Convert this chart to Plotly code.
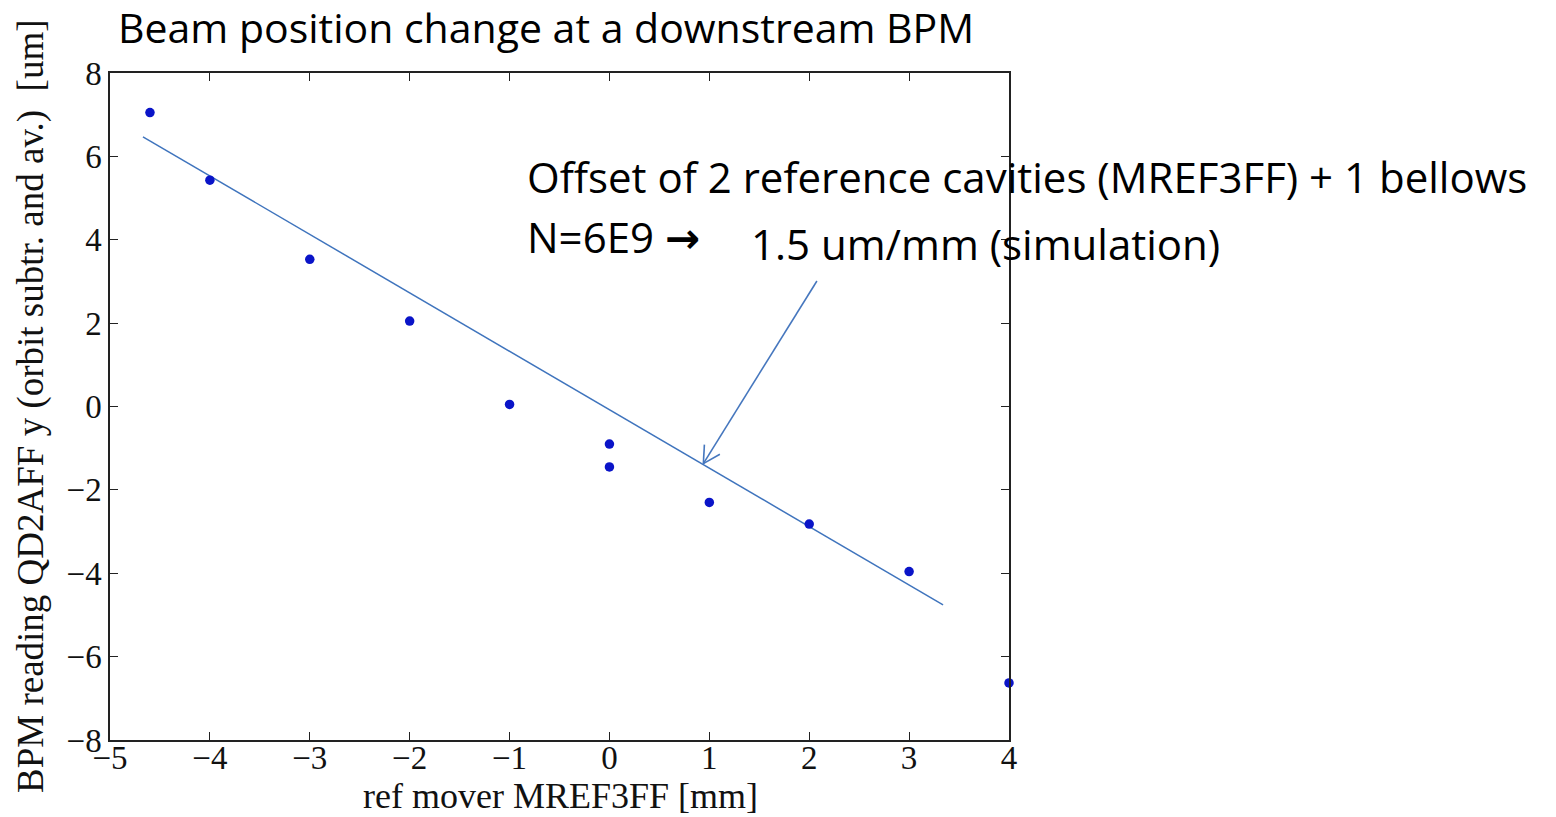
import math
import plotly.graph_objects as go

# Data
mover_mm = [-4.6, -4, -3, -2, -1, 0, 0, 1, 2, 3, 4]
bpm_um = [7.05, 5.43, 3.53, 2.05, 0.05, -0.9, -1.45, -2.3, -2.82, -3.96, -6.63]
fit_x = [-4.67, 3.34]
fit_y = [6.47, -4.76]
arrow_tail = (2.077, 3.01)
arrow_tip = (0.94, -1.37)
x_ticks = [-5, -4, -3, -2, -1, 0, 1, 2, 3, 4]
y_ticks = [-8, -6, -4, -2, 0, 2, 4, 6, 8]
x_range = [-5, 4]
y_range = [-8, 8]

W, H = 1556, 817
L, R, T, B = 110, 1009, 73, 740


def px(xp):
    return (xp - L) / (R - L)


def py(yp):
    return (B - yp) / (B - T)


# pixel scale of the data axes
sx = (R - L) / (x_range[1] - x_range[0])
sy = (B - T) / (y_range[1] - y_range[0])

# arrow shaft + open head (two arms), built from the arrow end points
dxp = (arrow_tail[0] - arrow_tip[0]) * sx
dyp = (arrow_tail[1] - arrow_tip[1]) * sy
ang = math.atan2(dyp, dxp)
head_len = 19
ax_x, ax_y = [arrow_tail[0], arrow_tip[0], None], [arrow_tail[1], arrow_tip[1], None]
for d in (-0.5, 0.5):
    a = ang + d
    ax_x += [arrow_tip[0], arrow_tip[0] + head_len * math.cos(a) / sx, None]
    ax_y += [arrow_tip[1], arrow_tip[1] + head_len * math.sin(a) / sy, None]

fig = go.Figure()
fig.add_trace(go.Scatter(x=fit_x, y=fit_y, mode="lines",
                         line=dict(color="#3f74bd", width=1.5),
                         showlegend=False, hoverinfo="skip"))
fig.add_trace(go.Scatter(x=ax_x, y=ax_y, mode="lines",
                         line=dict(color="#4677be", width=1.6),
                         showlegend=False, hoverinfo="skip", cliponaxis=False))
fig.add_trace(go.Scatter(x=mover_mm, y=bpm_um, mode="markers",
                         marker=dict(color="#0a14c8", size=9.5),
                         showlegend=False, cliponaxis=False))

serif = "Liberation Serif"
sans = "Open Sans"

axis_common = dict(showline=True, linecolor="#222", linewidth=1.5, mirror="allticks",
                   ticks="inside", ticklen=8, tickcolor="#222", showgrid=False,
                   zeroline=False, automargin=False,
                   tickfont=dict(family=serif, size=33, color="#111"))

fig.update_layout(
    width=W, height=H,
    margin=dict(l=L, r=W - R, t=T, b=H - B, pad=0, autoexpand=False),
    paper_bgcolor="white", plot_bgcolor="white",
    xaxis=dict(range=x_range, tickvals=x_ticks, ticklabelstandoff=-12, **axis_common),
    yaxis=dict(range=y_range, tickvals=y_ticks, **axis_common),
    annotations=[
        dict(text="ref mover MREF3FF [mm]", xref="paper", yref="paper",
             x=px(560), y=py(796), xanchor="center", yanchor="middle", showarrow=False,
             font=dict(family=serif, size=36, color="#111")),
        dict(text="BPM reading QD2AFF y (orbit subtr. and av.)  [um]", xref="paper", yref="paper",
             x=px(31), y=py(406), xanchor="center", yanchor="middle", showarrow=False,
             textangle=-90, font=dict(family=serif, size=37, color="#111")),
        dict(text="Beam position change at a downstream BPM", xref="paper", yref="paper",
             x=px(116), y=py(27), xanchor="left", yanchor="middle", showarrow=False,
             font=dict(family=sans, size=41, color="black")),
        dict(text="Offset of 2 reference cavities (MREF3FF) + 1 bellows", xref="paper", yref="paper",
             x=px(525), y=py(176), xanchor="left", yanchor="middle", showarrow=False,
             font=dict(family=sans, size=42, color="black")),
        dict(text="N=6E9 <span style=\"font-family:'DejaVu Sans';font-weight:bold\">\u2192</span>",
             xref="paper", yref="paper",
             x=px(525), y=py(236), xanchor="left", yanchor="middle", showarrow=False,
             font=dict(family=sans, size=42, color="black")),
        dict(text="1.5 um/mm (simulation)", xref="paper", yref="paper",
             x=px(749), y=py(243), xanchor="left", yanchor="middle", showarrow=False,
             font=dict(family=sans, size=42, color="black")),
    ],
)

fig.write_html("out.html")
